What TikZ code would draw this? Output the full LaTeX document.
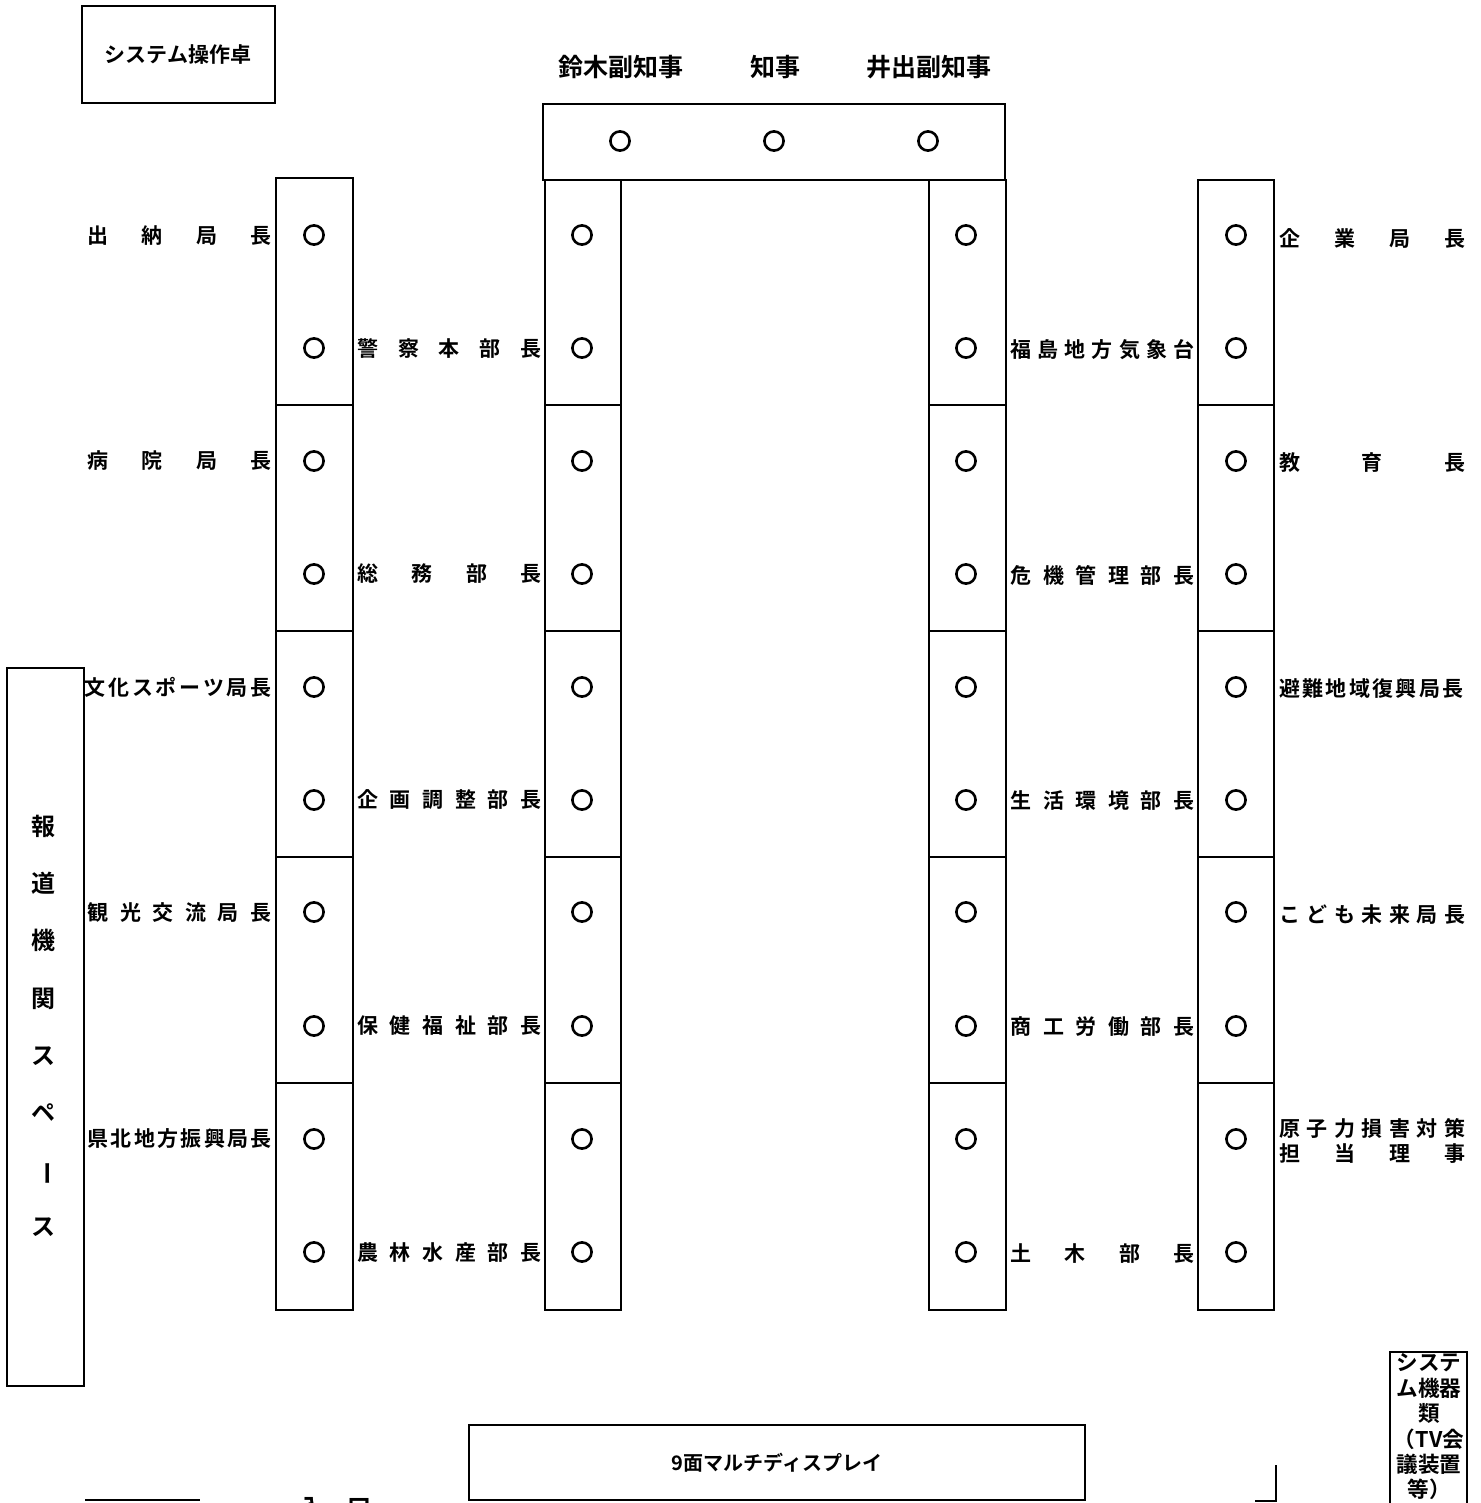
\documentclass[tikz,border=0pt]{standalone}
\usepackage{fontspec}
\setmainfont{Noto Sans CJK JP}[BoldFont={* Bold}]
\newcommand\jb[1]{\makebox[92pt][s]{#1}}
\begin{document}
\begin{tikzpicture}[x=0.5pt,y=-0.5pt,
  desk/.style={draw, line width=1pt},
  seat/.style={circle, draw, line width=1.3pt, minimum size=9.6pt, inner sep=0pt},
  lab/.style={inner sep=0pt, font=\fontsize{10.5}{12}\selectfont\bfseries},
  head/.style={inner sep=0pt, font=\fontsize{12.5}{14}\selectfont\bfseries},
  plain/.style={inner sep=0pt, font=\fontsize{10.5}{12}\selectfont\bfseries}]
\useasboundingbox (0,0) rectangle (1481,1503);
\clip (0,0) rectangle (1481,1503);
% system console
\draw[desk] (82,6) rectangle (275,103);
\node[plain] (console) at (178,55) {システム操作卓};
% top names
\node[head] (suzuki) at (621,67) {鈴木副知事};
\node[head] (chiji) at (775,67) {知事};
\node[head] (ide) at (929,67) {井出副知事};
% top desk
\draw[desk] (543,104) rectangle (1005,180);
\foreach \x/\n in {620/1,774/2,928/3}
  \node[seat] (t\n) at (\x,141) {};
% columns
\foreach \xa/\xb/\ya in {276/353/178, 545/621/180, 929/1006/180, 1198/1274/180}{
  \draw[desk] (\xa,\ya) rectangle (\xb,1310);
  \foreach \yy in {405,631,857,1083}
    \draw[desk] (\xa,\yy) -- (\xb,\yy);
}
% seats
\foreach \x/\n in {314/a,582/b,966/c,1236/d}
  \foreach \y [count=\i] in {235,348,461,574,687,800,912,1026,1139,1252}
    \node[seat] (s\n\i) at (\x,\y) {};
% left outer labels
\node[lab,anchor=east] (l1) at (272,236) {\jb{出\hfill 納\hfill 局\hfill 長}};
\node[lab,anchor=east] (l2) at (272,461) {\jb{病\hfill 院\hfill 局\hfill 長}};
\node[lab,anchor=east] (l3) at (272,687) {\makebox[93.5pt][s]{文\hfill 化\hfill ス\hfill ポ\hfill ー\hfill ツ\hfill 局\hfill 長}};
\node[lab,anchor=east] (l4) at (272,912) {\jb{観\hfill 光\hfill 交\hfill 流\hfill 局\hfill 長}};
\node[lab,anchor=east] (l5) at (272,1139) {\jb{県\hfill 北\hfill 地\hfill 方\hfill 振\hfill 興\hfill 局\hfill 長}};
% mid-left labels
\node[lab,anchor=west] (m1) at (357,349) {\jb{警\hfill 察\hfill 本\hfill 部\hfill 長}};
\node[lab,anchor=west] (m2) at (357,574) {\jb{総\hfill 務\hfill 部\hfill 長}};
\node[lab,anchor=west] (m3) at (357,800) {\jb{企\hfill 画\hfill 調\hfill 整\hfill 部\hfill 長}};
\node[lab,anchor=west] (m4) at (357,1026) {\jb{保\hfill 健\hfill 福\hfill 祉\hfill 部\hfill 長}};
\node[lab,anchor=west] (m5) at (357,1253) {\jb{農\hfill 林\hfill 水\hfill 産\hfill 部\hfill 長}};
% mid-right labels
\node[lab,anchor=west] (n1) at (1010,350) {\jb{福\hfill 島\hfill 地\hfill 方\hfill 気\hfill 象\hfill 台}};
\node[lab,anchor=west] (n2) at (1010,575) {\jb{危\hfill 機\hfill 管\hfill 理\hfill 部\hfill 長}};
\node[lab,anchor=west] (n3) at (1010,801) {\jb{生\hfill 活\hfill 環\hfill 境\hfill 部\hfill 長}};
\node[lab,anchor=west] (n4) at (1010,1027) {\jb{商\hfill 工\hfill 労\hfill 働\hfill 部\hfill 長}};
\node[lab,anchor=west] (n5) at (1010,1254) {\jb{土\hfill 木\hfill 部\hfill 長}};
% right outer labels
\node[lab,anchor=west] (r1) at (1279,238) {\makebox[93pt][s]{企\hfill 業\hfill 局\hfill 長}};
\node[lab,anchor=west] (r2) at (1279,463) {\makebox[93pt][s]{教\hfill 育\hfill 長}};
\node[lab,anchor=west] (r3) at (1279,689) {\jb{避\hfill 難\hfill 地\hfill 域\hfill 復\hfill 興\hfill 局\hfill 長}};
\node[lab,anchor=west] (r4) at (1279,915) {\makebox[93pt][s]{こ\hfill ど\hfill も\hfill 未\hfill 来\hfill 局\hfill 長}};
\node[lab,anchor=west] (r5a) at (1279,1128) {\makebox[93pt][s]{原\hfill 子\hfill 力\hfill 損\hfill 害\hfill 対\hfill 策}};
\node[lab,anchor=west] (r5b) at (1279,1154) {\makebox[93pt][s]{担\hfill 当\hfill 理\hfill 事}};
% press space
\draw[desk] (7,668) rectangle (84,1386);
\node[inner sep=0pt, align=center, font=\fontsize{12}{28.6}\selectfont\bfseries] (press) at (44,1026)
  {報\\道\\機\\関\\ス\\ペ\\\rotatebox[origin=c]{-90}{ー}\\ス};
% multi display
\draw[desk] (469,1425) rectangle (1085,1500);
\node[inner sep=0pt, font=\fontsize{10}{12}\selectfont\bfseries] (disp) at (777,1463) {9面マルチディスプレイ};
% system equipment
\draw[desk] (1390,1352) rectangle (1467,1510);
\node[inner sep=0pt, align=center, font=\fontsize{10.8}{12.7}\selectfont\bfseries] (equip) at (1429,1427)
  {システ\\ム機器\\類\\（TV会\\議装置\\等）};
% entrance
\draw[desk] (85,1500) -- (200,1500);
\node[inner sep=0pt, font=\fontsize{12}{14}\selectfont\bfseries] (ent1) at (311,1508) {入};
\node[inner sep=0pt, font=\fontsize{12}{14}\selectfont\bfseries] (ent2) at (359,1508) {口};
\draw[desk] (1255,1501) -- (1276,1501) -- (1276,1465);
\end{tikzpicture}
\end{document}
